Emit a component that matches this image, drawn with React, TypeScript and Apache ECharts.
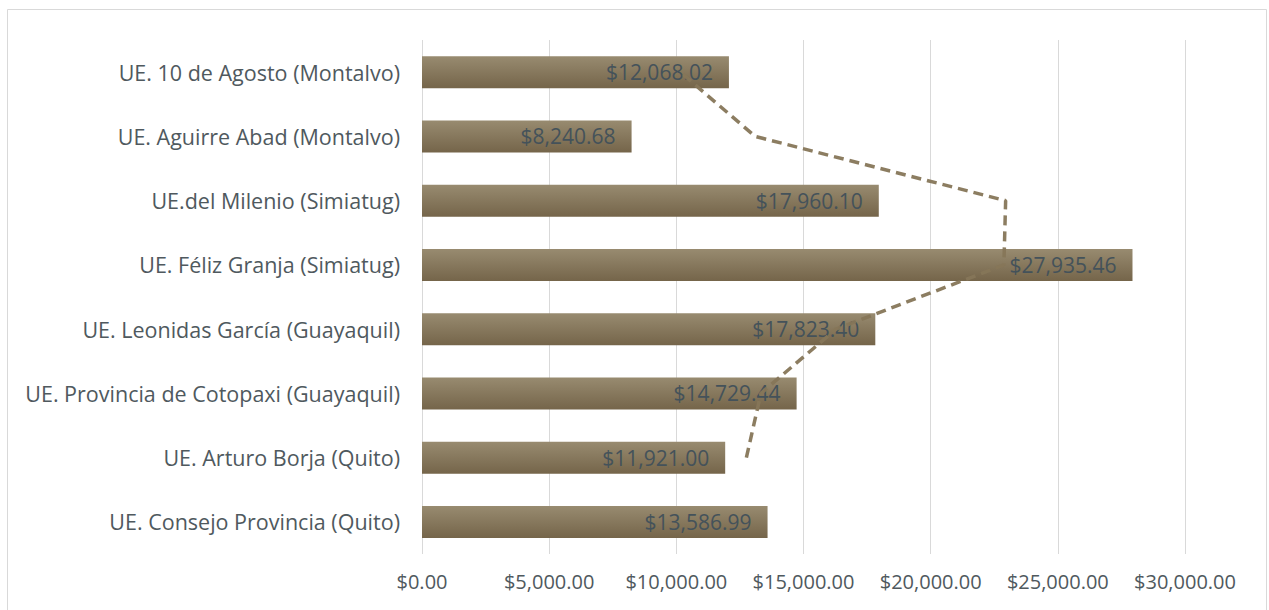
import React, { useEffect, useRef } from "react";
import * as echarts from "echarts";

const categories = [
  "UE. Consejo Provincia (Quito)",
  "UE. Arturo Borja (Quito)",
  "UE. Provincia de Cotopaxi (Guayaquil)",
  "UE. Leonidas García (Guayaquil)",
  "UE. Féliz Granja (Simiatug)",
  "UE.del Milenio (Simiatug)",
  "UE. Aguirre Abad (Montalvo)",
  "UE. 10 de Agosto (Montalvo)",
];
const values = [13586.99, 11921.0, 14729.44, 17823.4, 27935.46, 17960.1, 8240.68, 12068.02];
// trend line (2-period moving average); first category has none
const trendValues = [null, 12754, 13325, 16276, 22879, 22948, 13100, 10154];
const xTicks = [0, 5000, 10000, 15000, 20000, 25000, 30000];

const fmt = (v: number) =>
  "$" + v.toLocaleString("en-US", { minimumFractionDigits: 2, maximumFractionDigits: 2 });

export default function App() {
  const ref = useRef<HTMLDivElement>(null);
  useEffect(() => {
    if (!ref.current) return;
    const chart = echarts.init(ref.current, null, { renderer: "svg" });
    const font = "'Open Sans', Lato, sans-serif";
    chart.setOption({
      animation: false,
      backgroundColor: "#ffffff",
      graphic: [
        {
          type: "rect",
          shape: { x: 7.5, y: 9.5, width: 1259, height: 620 },
          style: { fill: "none", stroke: "#d9d9d9", lineWidth: 1 },
          silent: true,
        },
      ],
      grid: { left: 422, right: 84, top: 40, height: 514, containLabel: false },
      xAxis: {
        type: "value",
        min: xTicks[0],
        max: xTicks[xTicks.length - 1],
        interval: 5000,
        axisLine: { show: false },
        axisTick: { show: false },
        splitLine: { show: true, lineStyle: { color: "#d9d9d9", width: 1 } },
        axisLabel: {
          formatter: (v: number) => fmt(v),
          color: "#4f595e",
          fontSize: 20,
          fontFamily: font,
          margin: 17,
        },
      },
      yAxis: {
        type: "category",
        data: categories,
        axisLine: { show: false },
        axisTick: { show: false },
        axisLabel: {
          color: "#4f595e",
          fontSize: 21.5,
          fontFamily: font,
          margin: 22,
        },
      },
      series: [
        {
          type: "bar",
          data: values,
          barWidth: 32,
          z: 2,
          itemStyle: {
            color: new echarts.graphic.LinearGradient(0, 0, 0, 1, [
              { offset: 0, color: "#988b70" },
              { offset: 1, color: "#75654a" },
            ]),
          },
          label: {
            show: true,
            position: "insideRight",
            distance: 16,
            formatter: (p: any) => fmt(p.value),
            color: "#44525a",
            fontSize: 21,
            fontFamily: font,
          },
        },
        {
          type: "line",
          data: trendValues
            .map((v, i) => (v == null ? null : [v, i]))
            .filter((d) => d !== null),
          symbol: "none",
          z: 3,
          lineStyle: { color: "rgba(134,118,88,0.95)", width: 3.5, type: [10, 6] },
        },
      ],
    });
    return () => chart.dispose();
  }, []);
  return (
    <div
      ref={ref}
      style={{ position: "absolute", left: 0, top: 0, width: 1269, height: 610 }}
    />
  );
}
